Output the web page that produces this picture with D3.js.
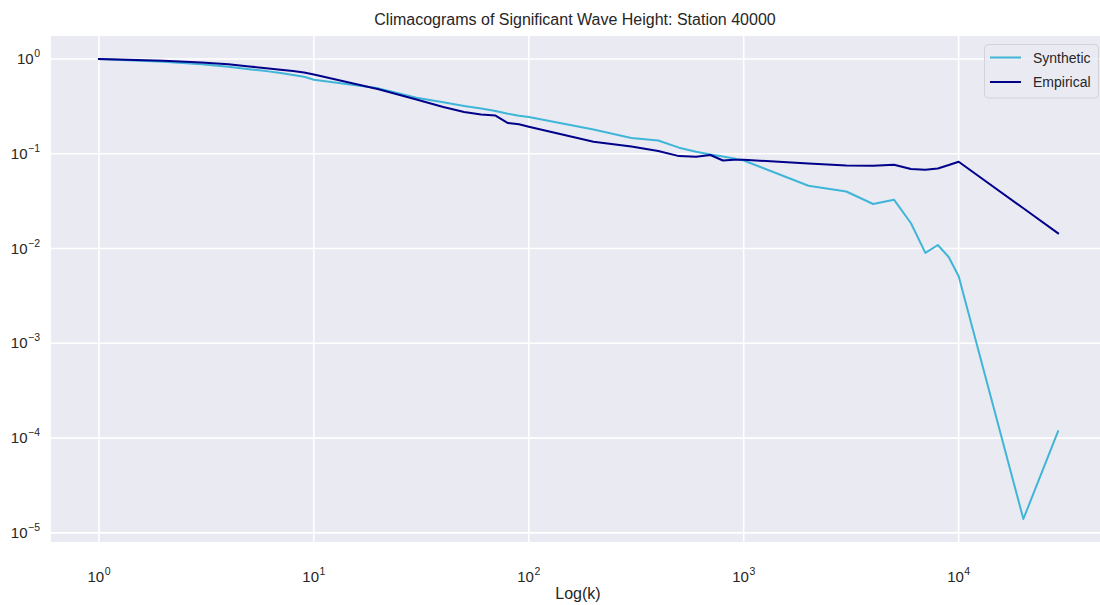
<!DOCTYPE html>
<html>
<head>
<meta charset="utf-8">
<script src="https://cdn.jsdelivr.net/npm/d3@7"></script>
<style>
  body { margin: 0; background: #ffffff; }
  svg text { font-family: Arial, "Liberation Sans", Helvetica, sans-serif; fill: #262626; }
</style>
</head>
<body>
<svg id="chart" width="1100" height="605"></svg>
<script>
// Aggregation scales k and the climacogram (variance ratio) at each scale
const kValues = [1, 2, 3, 4, 5, 6, 7, 8, 9, 10,
                 20, 30, 40, 50, 60, 70, 80, 90, 100,
                 200, 300, 400, 500, 600, 700, 800, 900, 1000,
                 2000, 3000, 4000, 5000, 6000, 7000, 8000, 9000, 10000,
                 20000, 29000];
const syntheticValues = [1.0, 0.935, 0.88, 0.83, 0.78, 0.745, 0.71, 0.678, 0.65, 0.605,
                         0.49, 0.39, 0.35, 0.32, 0.30, 0.283, 0.265, 0.252, 0.244,
                         0.18, 0.147, 0.138, 0.116, 0.105, 0.098, 0.0935, 0.089, 0.085,
                         0.046, 0.040, 0.0295, 0.0328, 0.0185, 0.0090, 0.0109, 0.0081, 0.0051,
                         1.4e-5, 1.18e-4];
const empiricalValues = [1.0, 0.96, 0.92, 0.88, 0.835, 0.80, 0.77, 0.745, 0.72, 0.685,
                         0.48, 0.374, 0.312, 0.276, 0.259, 0.253, 0.211, 0.205, 0.193,
                         0.134, 0.119, 0.107, 0.0945, 0.093, 0.097, 0.085, 0.0865, 0.0865,
                         0.079, 0.0753, 0.0748, 0.0766, 0.069, 0.068, 0.070, 0.076, 0.0824,
                         0.0266, 0.0145];
const seriesNames = ["Synthetic", "Empirical"];
const seriesColors = ["#3fb5d8", "#00008b"];
const xTickExponents = [0, 1, 2, 3, 4];
const yTickExponents = [0, -1, -2, -3, -4, -5];
const chartTitle = "Climacograms of Significant Wave Height: Station 40000";
const xAxisTitle = "Log(k)";

const svg = d3.select("#chart");
const plot = { left: 51, top: 36, right: 1106, bottom: 542 };

// Log domain padded by 5% of the data span on each side
function paddedLogDomain(values) {
  const [lo, hi] = d3.extent(values).map(Math.log10);
  const pad = (hi - lo) * 0.05;
  return [Math.pow(10, lo - pad), Math.pow(10, hi + pad)];
}

const x = d3.scaleLog()
  .domain(paddedLogDomain(kValues))
  .range([plot.left, plot.right]);
const y = d3.scaleLog()
  .domain(paddedLogDomain(syntheticValues.concat(empiricalValues)))
  .range([plot.bottom, plot.top]);

// Panel background
svg.append("rect")
  .attr("x", plot.left).attr("y", plot.top)
  .attr("width", plot.right - plot.left).attr("height", plot.bottom - plot.top)
  .attr("fill", "#eaeaf2");

// Grid lines at each decade
const xTicks = xTickExponents.map(e => Math.pow(10, e));
const yTicks = yTickExponents.map(e => Math.pow(10, e));

const grid = svg.append("g").attr("stroke", "#ffffff").attr("stroke-width", 1.6);
grid.selectAll("line.vx").data(xTicks).join("line")
  .attr("x1", d => x(d)).attr("x2", d => x(d))
  .attr("y1", plot.top).attr("y2", plot.bottom);
grid.selectAll("line.hy").data(yTicks).join("line")
  .attr("x1", plot.left).attr("x2", plot.right)
  .attr("y1", d => y(d)).attr("y2", d => y(d));

// Power-of-ten tick labels
function powerLabel(sel, exp) {
  sel.append("tspan").text("10");
  sel.append("tspan").attr("dx", 0.5).attr("dy", -7).attr("font-size", 10.5)
    .text(exp < 0 ? "\u2212" + Math.abs(exp) : String(exp));
}

const xAxis = svg.append("g").attr("font-size", 15);
xTickExponents.forEach(e => {
  const t = xAxis.append("text")
    .attr("x", x(Math.pow(10, e)))
    .attr("y", 582)
    .attr("text-anchor", "middle");
  powerLabel(t, e);
});

const yAxis = svg.append("g").attr("font-size", 15);
yTickExponents.forEach(e => {
  const t = yAxis.append("text")
    .attr("x", 40)
    .attr("y", y(Math.pow(10, e)) + 5)
    .attr("text-anchor", "end");
  powerLabel(t, e);
});

// Series lines
const line = d3.line()
  .x((d, i) => x(kValues[i]))
  .y(d => y(d));

const lines = svg.append("g")
  .attr("fill", "none")
  .attr("stroke-width", 2)
  .attr("stroke-linejoin", "round")
  .attr("stroke-linecap", "square");
[syntheticValues, empiricalValues].forEach((vals, s) => {
  lines.append("path")
    .attr("d", line(vals))
    .attr("stroke", seriesColors[s]);
});

// Legend
const legend = svg.append("g");
legend.append("rect")
  .attr("x", 984.5).attr("y", 44.5)
  .attr("width", 114).attr("height", 53.5)
  .attr("rx", 4)
  .attr("fill", "#eaeaf2").attr("fill-opacity", 0.8)
  .attr("stroke", "#d2d2d8").attr("stroke-width", 1);
seriesNames.forEach((name, i) => {
  const cy = 57.5 + i * 24.5;
  legend.append("line")
    .attr("x1", 990).attr("x2", 1021)
    .attr("y1", cy).attr("y2", cy)
    .attr("stroke", seriesColors[i]).attr("stroke-width", 2);
  legend.append("text")
    .attr("x", 1033).attr("y", cy + 5)
    .attr("font-size", 14)
    .text(name);
});

// Titles
svg.append("text")
  .attr("x", 575).attr("y", 25)
  .attr("text-anchor", "middle")
  .attr("font-size", 16)
  .text(chartTitle);

svg.append("text")
  .attr("x", 578).attr("y", 599)
  .attr("text-anchor", "middle")
  .attr("font-size", 16)
  .text(xAxisTitle);
</script>
</body>
</html>
